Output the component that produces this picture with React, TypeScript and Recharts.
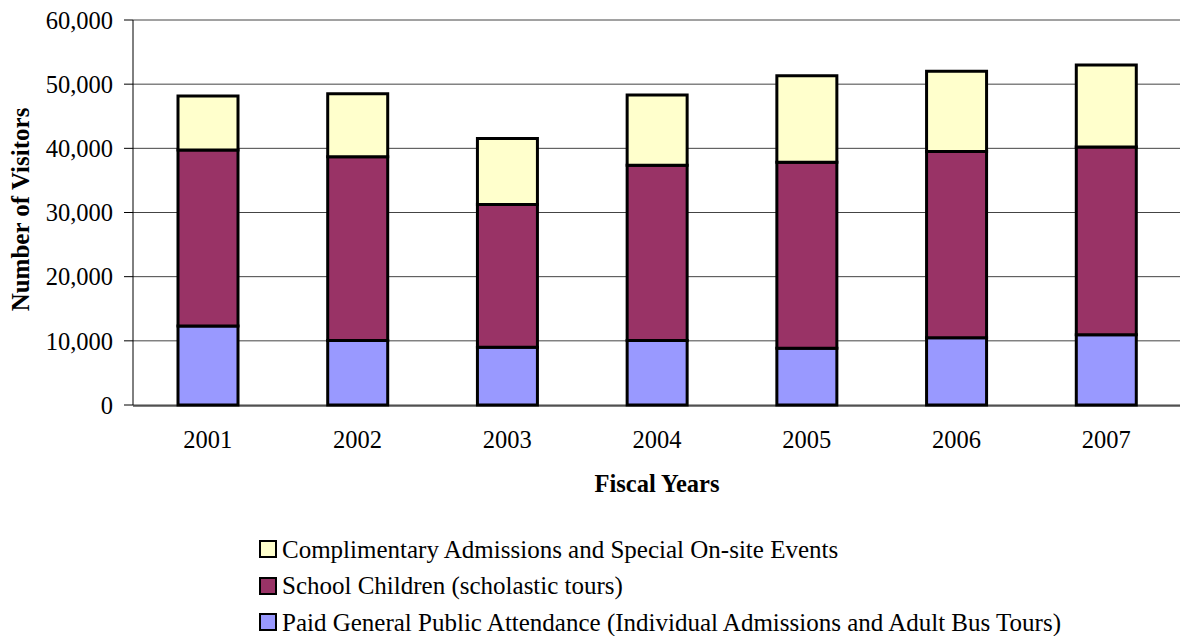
import React from 'react';
import { BarChart, Bar, XAxis, YAxis, CartesianGrid, Legend } from 'recharts';

// Fiscal years on the category axis
const fiscalYears = ['2001', '2002', '2003', '2004', '2005', '2006', '2007'];

// Visitor counts per fiscal year
const paidAttendance = [12300, 10050, 9000, 10050, 8850, 10500, 10950];
const schoolChildren = [27450, 28650, 22250, 27300, 29000, 29000, 29250];
const complimentary = [8400, 9800, 10300, 10950, 13450, 12500, 12800];

// Value axis ticks and category boundary ticks
const visitorTicks = [0, 10000, 20000, 30000, 40000, 50000, 60000];
const boundaryTicks = [0, 1, 2, 3, 4, 5, 6, 7];

const seriesNames = {
  paid: 'Paid General Public Attendance (Individual Admissions and Adult Bus Tours)',
  school: 'School Children (scholastic tours)',
  comp: 'Complimentary Admissions and Special On-site Events',
};

const seriesColors = {
  paid: '#9999FF',
  school: '#993366',
  comp: '#FFFFCC',
};

// Legend lists the top segment first
const legendOrder = ['comp', 'school', 'paid'];

const data = fiscalYears.map((year, i) => ({
  year,
  slot: i + 0.5,
  paid: paidAttendance[i],
  school: schoolChildren[i],
  comp: complimentary[i],
}));

const FONT = '"Liberation Serif", "Times New Roman", Times, serif';

const formatThousands = (v: number) => v.toLocaleString('en-US');

const YearTick = (props: any) => {
  const { x, y, payload } = props;
  return (
    <text x={x} y={y} dy={17} textAnchor="middle" fontFamily={FONT} fontSize={24.5} fill="#000">
      {payload.value}
    </text>
  );
};

const LegendList = (props: any) => {
  const items = [...(props.payload || [])].sort(
    (a: any, b: any) => legendOrder.indexOf(a.dataKey) - legendOrder.indexOf(b.dataKey)
  );
  return (
    <div style={{ fontFamily: FONT, fontSize: 25, color: '#000', lineHeight: 1 }}>
      {items.map((item: any) => (
        <div
          key={item.value}
          style={{ display: 'flex', alignItems: 'center', height: 36.5, whiteSpace: 'nowrap' }}
        >
          <span
            style={{
              display: 'inline-block',
              boxSizing: 'border-box',
              width: 18,
              height: 18,
              background: item.color,
              border: '2px solid #000',
              marginRight: 5,
            }}
          />
          <span>{item.value}</span>
        </div>
      ))}
    </div>
  );
};

export default function App() {
  return (
    <div
      style={{
        position: 'absolute',
        left: 0,
        top: 0,
        width: 1180,
        height: 636,
        overflow: 'hidden',
        background: '#fff',
      }}
    >
      <BarChart
        width={1182}
        height={636}
        data={data}
        margin={{ top: 20, right: 1, bottom: 229, left: 0 }}
        barSize={60}
      >
        <CartesianGrid horizontal vertical={false} stroke="#444" strokeWidth={1} />
        <XAxis
          xAxisId="edges"
          type="number"
          dataKey="slot"
          domain={[0, 7]}
          ticks={boundaryTicks}
          allowDataOverflow
          height={1}
          tick={false}
          tickSize={8}
          tickLine={{ stroke: '#333' }}
          axisLine={{ stroke: '#000', strokeWidth: 1 }}
        />
        <XAxis
          xAxisId="cat"
          dataKey="year"
          height={1}
          axisLine={false}
          tickLine={false}
          tick={<YearTick />}
          tickMargin={20}
          interval={0}
          label={{
            content: (p: any) => {
              const vb = p.viewBox;
              return (
                <text
                  x={vb.x + vb.width / 2}
                  y={vb.y + 87}
                  textAnchor="middle"
                  fontFamily={FONT}
                  fontSize={24.5}
                  fontWeight="bold"
                  fill="#000"
                >
                  Fiscal Years
                </text>
              );
            },
          }}
        />
        <YAxis
          width={133}
          domain={[0, 60000]}
          ticks={visitorTicks}
          tickFormatter={formatThousands}
          tickSize={9}
          tickMargin={11}
          tick={{ fontFamily: FONT, fontSize: 24.5, fill: '#000' }}
          axisLine={{ stroke: '#000' }}
          tickLine={{ stroke: '#000' }}
          label={{
            content: (p: any) => {
              const vb = p.viewBox;
              const cx = 20;
              const cy = vb.y + vb.height / 2 - 3;
              return (
                <text
                  x={cx}
                  y={cy}
                  transform={`rotate(-90 ${cx} ${cy})`}
                  textAnchor="middle"
                  dominantBaseline="central"
                  fontFamily={FONT}
                  fontSize={25}
                  fontWeight="bold"
                  fill="#000"
                >
                  Number of Visitors
                </text>
              );
            },
          }}
        />
        <Legend
          layout="horizontal"
          verticalAlign="middle"
          align="center"
          wrapperStyle={{ top: 531, left: 259, width: 'auto', height: 'auto' }}
          content={<LegendList />}
        />
        <Bar
          xAxisId="cat"
          dataKey="paid"
          name={seriesNames.paid}
          stackId="v"
          fill={seriesColors.paid}
          stroke="#000"
          strokeWidth={3}
          isAnimationActive={false}
        />
        <Bar
          xAxisId="cat"
          dataKey="school"
          name={seriesNames.school}
          stackId="v"
          fill={seriesColors.school}
          stroke="#000"
          strokeWidth={3}
          isAnimationActive={false}
        />
        <Bar
          xAxisId="cat"
          dataKey="comp"
          name={seriesNames.comp}
          stackId="v"
          fill={seriesColors.comp}
          stroke="#000"
          strokeWidth={3}
          isAnimationActive={false}
        />
      </BarChart>
    </div>
  );
}
